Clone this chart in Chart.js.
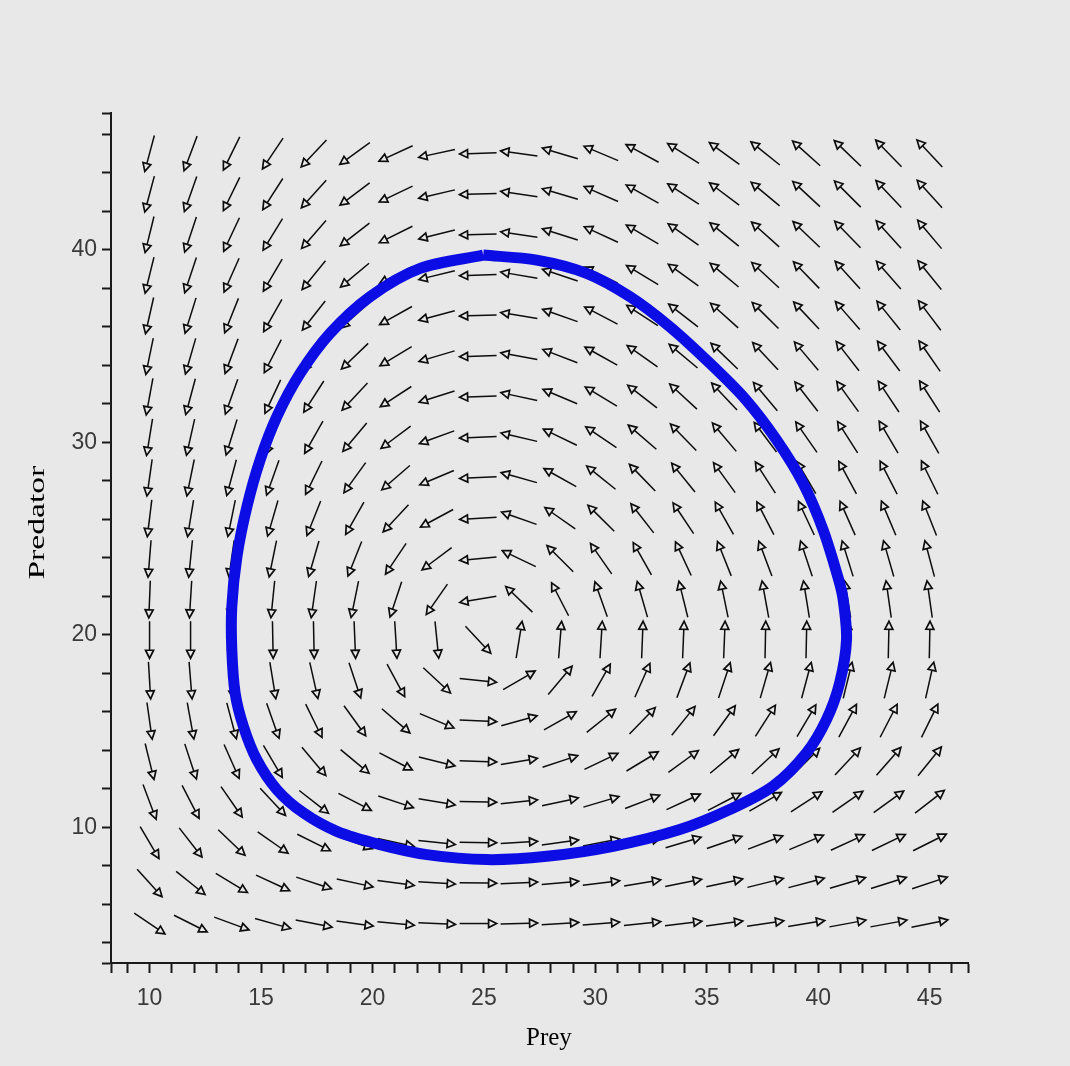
<!DOCTYPE html>
<html>
<head>
<meta charset="utf-8">
<title>Predator - Prey</title>
<script src="https://cdn.jsdelivr.net/npm/chart.js@4.4.1/dist/chart.umd.min.js"></script>
<style>
  body { margin: 0; background: #e8e8e8; }
  #myChart { display: block; }
</style>
</head>
<body>
<canvas id="myChart" width="1070" height="1066"></canvas>
<script>
// grid of the direction field //

var preyGrid = [10, 11.84, 13.68, 15.53, 17.37, 19.21, 21.05, 22.89, 24.74, 26.58,
                28.42, 30.26, 32.11, 33.95, 35.79, 37.63, 39.47, 41.32, 43.16, 45];
var predGrid = [5, 7.11, 9.21, 11.32, 13.42, 15.53, 17.63, 19.74, 21.84, 23.95,
                26.05, 28.16, 30.26, 32.37, 34.47, 36.58, 38.68, 40.79, 42.89, 45];

// arrow direction (degrees, prey -> predator) at each grid point, bottom row first
var arrowAngle = [
  [-38, -30, -23, -18, -13, -9, -6, -3, 0, 2, 4, 5, 7, 8, 9, 10, 11, 12, 12, 13],
  [-52, -43, -35, -28, -21, -14, -9, -4, -1, 3, 6, 8, 11, 13, 14, 16, 17, 19, 20, 21],
  [-63, -56, -48, -39, -30, -22, -14, -7, -1, 4, 9, 13, 16, 19, 22, 24, 26, 28, 29, 30],
  [-72, -66, -59, -51, -42, -31, -21, -11, -1, 7, 14, 19, 24, 28, 31, 34, 37, 39, 40, 42],
  [-78, -74, -69, -63, -54, -44, -31, -16, -2, 11, 21, 29, 35, 40, 44, 47, 49, 51, 53, 55],
  [-83, -81, -77, -73, -67, -58, -45, -26, -3, 18, 33, 43, 50, 55, 58, 61, 63, 65, 66, 67],
  [-87, -86, -84, -82, -79, -74, -65, -47, -7, 34, 54, 64, 69, 72, 74, 76, 77, 78, 78, 79],
  [-90, -90, -89, -89, -89, -88, -87, -85, -51, 82, 86, 87, 88, 88, 88, 89, 89, 89, 89, 89],
  [-92, -93, -94, -95, -97, -100, -106, -121, -169, 132, 114, 107, 104, 102, 100, 99, 98, 98, 97, 97],
  [-94, -95, -97, -100, -104, -109, -120, -139, -174, 151, 131, 121, 116, 112, 109, 108, 106, 105, 104, 103],
  [-96, -98, -100, -104, -109, -116, -129, -148, -176, 158, 141, 131, 124, 120, 116, 114, 112, 111, 110, 109],
  [-97, -100, -103, -107, -113, -122, -135, -154, -177, 162, 147, 137, 130, 125, 122, 119, 117, 115, 114, 113],
  [-98, -101, -105, -110, -116, -126, -139, -157, -177, 165, 151, 142, 135, 130, 126, 123, 121, 119, 117, 116],
  [-99, -103, -107, -112, -119, -129, -143, -160, -178, 166, 154, 145, 138, 133, 129, 126, 124, 122, 120, 119],
  [-100, -104, -108, -114, -122, -132, -145, -161, -178, 168, 156, 147, 141, 136, 132, 129, 126, 124, 123, 121],
  [-101, -105, -109, -116, -124, -134, -147, -163, -178, 169, 158, 149, 143, 138, 134, 131, 129, 127, 125, 123],
  [-102, -106, -111, -117, -125, -136, -149, -164, -178, 169, 159, 151, 145, 140, 136, 133, 130, 128, 127, 125],
  [-102, -106, -112, -118, -127, -138, -150, -164, -178, 170, 160, 152, 146, 141, 137, 134, 132, 130, 128, 126],
  [-103, -107, -113, -119, -128, -139, -151, -165, -178, 170, 161, 153, 147, 143, 139, 136, 133, 131, 129, 128],
  [-103, -108, -113, -120, -129, -140, -152, -166, -178, 171, 161, 154, 148, 144, 140, 137, 134, 132, 130, 129]
];

// the blue orbit, going round once
var orbitPrey = [24.97, 22.14, 19.89, 18.10, 16.76, 15.71, 14.96, 14.37, 13.92, 13.69,
                 13.69, 13.84, 14.21, 14.81, 15.71, 16.90, 18.40, 20.34, 22.44, 25.13,
                 27.82, 30.80, 33.79, 36.03, 37.97, 39.47, 40.37, 40.96, 41.27, 41.12,
                 40.92, 40.22, 39.32, 38.13, 36.72, 35.14, 33.34, 31.55, 29.61, 27.37, 24.97];
var orbitPred = [39.72, 39.03, 37.56, 35.66, 33.58, 31.33, 29.08, 26.66, 24.06, 21.47,
                 19.22, 16.97, 15.24, 13.51, 11.96, 10.75, 9.79, 9.10, 8.58, 8.32,
                 8.49, 9.01, 9.88, 10.92, 12.13, 13.86, 15.59, 17.49, 19.74, 21.82,
                 22.85, 25.45, 27.87, 30.12, 32.25, 34.10, 36.00, 37.56, 38.77, 39.46, 39.72];

// axes
var xMin = 8.27, xMax = 46.72, yMin = 2.95, yMax = 47.1;
var xTicks = [8.27, 9, 10, 11, 12, 13, 14, 15, 16, 17, 18, 19, 20, 21, 22, 23, 24, 25, 26, 27,
              28, 29, 30, 31, 32, 33, 34, 35, 36, 37, 38, 39, 40, 41, 42, 43, 44, 45, 46, 46.72];
var xLabels = [10, 15, 20, 25, 30, 35, 40, 45];
var yTicks = [2.95, 4, 6, 8, 10, 12, 14, 16, 18, 20, 22, 24, 26, 28, 30, 32, 34, 36, 38, 40,
              42, 44, 46, 47.1];
var yLabels = [10, 20, 30, 40];

var bgColor = '#e8e8e8';


// grey page behind everything
var background = {
  id: 'background',
  beforeDraw: function (chart) {
    var c = chart.ctx;
    c.save();
    c.fillStyle = bgColor;
    c.fillRect(0, 0, chart.width, chart.height);
    c.restore();
  }
};

// direction field arrows, drawn under the orbit
var fieldArrows = {
  id: 'fieldArrows',
  beforeDatasetsDraw: function (chart) {
    var c = chart.ctx;
    var sx = chart.scales.x, sy = chart.scales.y;
    var kx = Math.abs(sx.getPixelForValue(1) - sx.getPixelForValue(0));
    var ky = Math.abs(sy.getPixelForValue(1) - sy.getPixelForValue(0));
    var half = 18.5, headLen = 8, headW = 4;
    c.save();
    c.strokeStyle = '#0d0d0d';
    c.fillStyle = bgColor;
    c.lineJoin = 'miter';
    predGrid.forEach(function (pv, j) {
      preyGrid.forEach(function (xv, i) {
        var a = arrowAngle[j][i] * Math.PI / 180;
        var dx = Math.cos(a) * kx, dy = -Math.sin(a) * ky;
        var n = Math.hypot(dx, dy);
        dx /= n; dy /= n;
        var cx = sx.getPixelForValue(xv), cy = sy.getPixelForValue(pv);
        var tx = cx + dx * half, ty = cy + dy * half;     // tip
        var bx = tx - dx * headLen, by = ty - dy * headLen; // base of head
        c.lineWidth = 1.5;
        c.beginPath();
        c.moveTo(cx - dx * half, cy - dy * half);
        c.lineTo(bx, by);
        c.stroke();
        c.lineWidth = 1.7;
        c.beginPath();
        c.moveTo(tx, ty);
        c.lineTo(bx - dy * headW, by + dx * headW);
        c.lineTo(bx + dy * headW, by - dx * headW);
        c.closePath();
        c.fill();
        c.stroke();
      });
    });
    c.restore();
  }
};

// axis titles in serif, as in the original plot
var axisTitles = {
  id: 'axisTitles',
  afterDraw: function (chart) {
    var c = chart.ctx;
    var area = chart.chartArea;
    c.save();
    c.fillStyle = '#000';
    c.font = '25px "Liberation Serif"';
    c.textAlign = 'center';
    c.textBaseline = 'alphabetic';
    c.fillText('Prey', area.left + (area.right - area.left) * 0.511, 1045);
    c.translate(44, area.top + (area.bottom - area.top) * 0.482);
    c.rotate(-Math.PI / 2);
    c.scale(1.4, 1);
    c.font = '24px "Liberation Serif"';
    c.fillText('Predator', 0, 0);
    c.restore();
  }
};


function renderChart() {
  var ctx = document.getElementById('myChart').getContext('2d');
  var orbit = orbitPrey.map(function (v, k) { return {x: v, y: orbitPred[k]}; });
  var tickFont = {family: '"Liberation Sans", Arial, sans-serif', size: 23};

  var myChart = new Chart(ctx, {
    type: 'scatter',
    data: {
      datasets: [{
        label: 'orbit',
        data: orbit,
        showLine: true,
        borderColor: '#0c0ce4',
        borderWidth: 11,
        borderJoinStyle: 'round',
        pointRadius: 0,
        tension: 0.3,
        fill: false
      }]
    },
    options: {
      responsive: false,
      animation: false,
      devicePixelRatio: 1,
      layout: {padding: {top: 113, right: 102, bottom: 0, left: 0}},
      plugins: {legend: {display: false}, tooltip: {enabled: false}},
      scales: {
        x: {
          type: 'linear', min: xMin, max: xMax,
          afterFit: function (s) { s.height = 103; },
          afterBuildTicks: function (s) { s.ticks = xTicks.map(function (v) { return {value: v}; }); },
          ticks: {
            autoSkip: false, maxRotation: 0, padding: 12, color: '#3a3a3a', font: tickFont,
            callback: function (v) { return xLabels.indexOf(v) >= 0 ? String(v) : ''; }
          },
          grid: {drawOnChartArea: false, drawTicks: true, tickLength: 10, tickColor: '#1a1a1a', tickWidth: 2},
          border: {display: true, color: '#1a1a1a', width: 2}
        },
        y: {
          type: 'linear', min: yMin, max: yMax,
          afterFit: function (s) { s.width = 111; },
          afterBuildTicks: function (s) { s.ticks = yTicks.map(function (v) { return {value: v}; }); },
          ticks: {
            autoSkip: false, padding: 5, color: '#3a3a3a', font: tickFont,
            callback: function (v) { return yLabels.indexOf(v) >= 0 ? String(v) : ''; }
          },
          grid: {drawOnChartArea: false, drawTicks: true, tickLength: 9, tickColor: '#1a1a1a', tickWidth: 2},
          border: {display: true, color: '#1a1a1a', width: 2}
        }
      }
    },
    plugins: [background, fieldArrows, axisTitles]
  });
}

renderChart();
</script>
</body>
</html>
